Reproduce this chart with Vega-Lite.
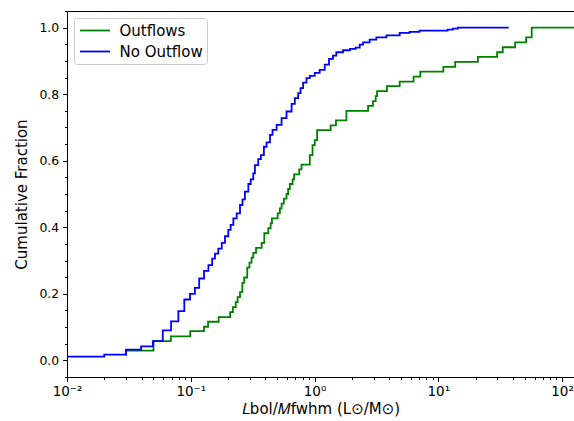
{
  "$schema": "https://vega.github.io/schema/vega-lite/v6.json",
  "width": 507,
  "height": 366,
  "autosize": {"type": "none"},
  "padding": {"left": 67, "top": 11, "right": 0, "bottom": 44},
  "background": "white",
  "config": {
    "font": "DejaVu Sans",
    "view": {"stroke": "#000000", "strokeWidth": 1},
    "axis": {
      "domainColor": "#000000",
      "domainWidth": 1,
      "tickColor": "#000000",
      "tickWidth": 1,
      "labelColor": "#000000",
      "labelFont": "DejaVu Sans",
      "labelFontSize": 12.4,
      "titleFont": "DejaVu Sans",
      "titleFontSize": 15,
      "titleFontWeight": "normal",
      "titleColor": "#000000",
      "grid": false
    }
  },
  "data": {
    "values": [
      {"s": "Outflows", "i": 0, "x": 0.03, "y": 0.0145},
      {"s": "Outflows", "i": 1, "x": 0.03, "y": 0.029},
      {"s": "Outflows", "i": 2, "x": 0.05, "y": 0.058},
      {"s": "Outflows", "i": 3, "x": 0.069, "y": 0.072},
      {"s": "Outflows", "i": 4, "x": 0.099, "y": 0.088},
      {"s": "Outflows", "i": 5, "x": 0.128, "y": 0.101},
      {"s": "Outflows", "i": 6, "x": 0.138, "y": 0.116},
      {"s": "Outflows", "i": 7, "x": 0.168, "y": 0.130},
      {"s": "Outflows", "i": 8, "x": 0.208, "y": 0.145},
      {"s": "Outflows", "i": 9, "x": 0.219, "y": 0.160},
      {"s": "Outflows", "i": 10, "x": 0.231, "y": 0.175},
      {"s": "Outflows", "i": 11, "x": 0.239, "y": 0.190},
      {"s": "Outflows", "i": 12, "x": 0.250, "y": 0.205},
      {"s": "Outflows", "i": 13, "x": 0.261, "y": 0.233},
      {"s": "Outflows", "i": 14, "x": 0.270, "y": 0.249},
      {"s": "Outflows", "i": 15, "x": 0.286, "y": 0.279},
      {"s": "Outflows", "i": 16, "x": 0.298, "y": 0.294},
      {"s": "Outflows", "i": 17, "x": 0.310, "y": 0.309},
      {"s": "Outflows", "i": 18, "x": 0.320, "y": 0.323},
      {"s": "Outflows", "i": 19, "x": 0.337, "y": 0.338},
      {"s": "Outflows", "i": 20, "x": 0.374, "y": 0.353},
      {"s": "Outflows", "i": 21, "x": 0.393, "y": 0.382},
      {"s": "Outflows", "i": 22, "x": 0.423, "y": 0.397},
      {"s": "Outflows", "i": 23, "x": 0.442, "y": 0.412},
      {"s": "Outflows", "i": 24, "x": 0.453, "y": 0.427},
      {"s": "Outflows", "i": 25, "x": 0.504, "y": 0.442},
      {"s": "Outflows", "i": 26, "x": 0.525, "y": 0.457},
      {"s": "Outflows", "i": 27, "x": 0.542, "y": 0.471},
      {"s": "Outflows", "i": 28, "x": 0.565, "y": 0.486},
      {"s": "Outflows", "i": 29, "x": 0.594, "y": 0.500},
      {"s": "Outflows", "i": 30, "x": 0.612, "y": 0.515},
      {"s": "Outflows", "i": 31, "x": 0.632, "y": 0.530},
      {"s": "Outflows", "i": 32, "x": 0.665, "y": 0.544},
      {"s": "Outflows", "i": 33, "x": 0.684, "y": 0.559},
      {"s": "Outflows", "i": 34, "x": 0.753, "y": 0.574},
      {"s": "Outflows", "i": 35, "x": 0.785, "y": 0.588},
      {"s": "Outflows", "i": 36, "x": 0.916, "y": 0.617},
      {"s": "Outflows", "i": 37, "x": 0.964, "y": 0.647},
      {"s": "Outflows", "i": 38, "x": 1.005, "y": 0.662},
      {"s": "Outflows", "i": 39, "x": 1.05, "y": 0.692},
      {"s": "Outflows", "i": 40, "x": 1.35, "y": 0.706},
      {"s": "Outflows", "i": 41, "x": 1.49, "y": 0.721},
      {"s": "Outflows", "i": 42, "x": 1.81, "y": 0.750},
      {"s": "Outflows", "i": 43, "x": 2.71, "y": 0.765},
      {"s": "Outflows", "i": 44, "x": 2.97, "y": 0.779},
      {"s": "Outflows", "i": 45, "x": 3.12, "y": 0.794},
      {"s": "Outflows", "i": 46, "x": 3.20, "y": 0.809},
      {"s": "Outflows", "i": 47, "x": 3.85, "y": 0.824},
      {"s": "Outflows", "i": 48, "x": 4.88, "y": 0.838},
      {"s": "Outflows", "i": 49, "x": 6.32, "y": 0.853},
      {"s": "Outflows", "i": 50, "x": 7.16, "y": 0.868},
      {"s": "Outflows", "i": 51, "x": 11.0, "y": 0.882},
      {"s": "Outflows", "i": 52, "x": 13.7, "y": 0.897},
      {"s": "Outflows", "i": 53, "x": 20.9, "y": 0.912},
      {"s": "Outflows", "i": 54, "x": 29.9, "y": 0.926},
      {"s": "Outflows", "i": 55, "x": 33.2, "y": 0.941},
      {"s": "Outflows", "i": 56, "x": 41.8, "y": 0.956},
      {"s": "Outflows", "i": 57, "x": 51.3, "y": 0.971},
      {"s": "Outflows", "i": 58, "x": 56.9, "y": 1.0},
      {"s": "Outflows", "i": 59, "x": 125, "y": 1.0},
      {"s": "No Outflow", "i": 0, "x": 0.008, "y": 0.0115},
      {"s": "No Outflow", "i": 1, "x": 0.020, "y": 0.017},
      {"s": "No Outflow", "i": 2, "x": 0.030, "y": 0.032},
      {"s": "No Outflow", "i": 3, "x": 0.0397, "y": 0.042},
      {"s": "No Outflow", "i": 4, "x": 0.0494, "y": 0.058},
      {"s": "No Outflow", "i": 5, "x": 0.0594, "y": 0.090},
      {"s": "No Outflow", "i": 6, "x": 0.0693, "y": 0.117},
      {"s": "No Outflow", "i": 7, "x": 0.0794, "y": 0.148},
      {"s": "No Outflow", "i": 8, "x": 0.0887, "y": 0.183},
      {"s": "No Outflow", "i": 9, "x": 0.0986, "y": 0.200},
      {"s": "No Outflow", "i": 10, "x": 0.108, "y": 0.218},
      {"s": "No Outflow", "i": 11, "x": 0.117, "y": 0.246},
      {"s": "No Outflow", "i": 12, "x": 0.128, "y": 0.269},
      {"s": "No Outflow", "i": 13, "x": 0.139, "y": 0.286},
      {"s": "No Outflow", "i": 14, "x": 0.149, "y": 0.306},
      {"s": "No Outflow", "i": 15, "x": 0.157, "y": 0.321},
      {"s": "No Outflow", "i": 16, "x": 0.167, "y": 0.336},
      {"s": "No Outflow", "i": 17, "x": 0.178, "y": 0.353},
      {"s": "No Outflow", "i": 18, "x": 0.189, "y": 0.373},
      {"s": "No Outflow", "i": 19, "x": 0.201, "y": 0.392},
      {"s": "No Outflow", "i": 20, "x": 0.210, "y": 0.407},
      {"s": "No Outflow", "i": 21, "x": 0.221, "y": 0.427},
      {"s": "No Outflow", "i": 22, "x": 0.235, "y": 0.442},
      {"s": "No Outflow", "i": 23, "x": 0.250, "y": 0.467},
      {"s": "No Outflow", "i": 24, "x": 0.262, "y": 0.484},
      {"s": "No Outflow", "i": 25, "x": 0.274, "y": 0.507},
      {"s": "No Outflow", "i": 26, "x": 0.292, "y": 0.530},
      {"s": "No Outflow", "i": 27, "x": 0.305, "y": 0.544},
      {"s": "No Outflow", "i": 28, "x": 0.320, "y": 0.562},
      {"s": "No Outflow", "i": 29, "x": 0.330, "y": 0.587},
      {"s": "No Outflow", "i": 30, "x": 0.351, "y": 0.605},
      {"s": "No Outflow", "i": 31, "x": 0.369, "y": 0.617},
      {"s": "No Outflow", "i": 32, "x": 0.390, "y": 0.642},
      {"s": "No Outflow", "i": 33, "x": 0.410, "y": 0.655},
      {"s": "No Outflow", "i": 34, "x": 0.437, "y": 0.678},
      {"s": "No Outflow", "i": 35, "x": 0.458, "y": 0.693},
      {"s": "No Outflow", "i": 36, "x": 0.494, "y": 0.708},
      {"s": "No Outflow", "i": 37, "x": 0.542, "y": 0.728},
      {"s": "No Outflow", "i": 38, "x": 0.594, "y": 0.748},
      {"s": "No Outflow", "i": 39, "x": 0.653, "y": 0.771},
      {"s": "No Outflow", "i": 40, "x": 0.693, "y": 0.788},
      {"s": "No Outflow", "i": 41, "x": 0.738, "y": 0.803},
      {"s": "No Outflow", "i": 42, "x": 0.771, "y": 0.818},
      {"s": "No Outflow", "i": 43, "x": 0.809, "y": 0.835},
      {"s": "No Outflow", "i": 44, "x": 0.861, "y": 0.848},
      {"s": "No Outflow", "i": 45, "x": 0.916, "y": 0.855},
      {"s": "No Outflow", "i": 46, "x": 1.005, "y": 0.864},
      {"s": "No Outflow", "i": 47, "x": 1.10, "y": 0.873},
      {"s": "No Outflow", "i": 48, "x": 1.21, "y": 0.889},
      {"s": "No Outflow", "i": 49, "x": 1.31, "y": 0.906},
      {"s": "No Outflow", "i": 50, "x": 1.41, "y": 0.916},
      {"s": "No Outflow", "i": 51, "x": 1.50, "y": 0.926},
      {"s": "No Outflow", "i": 52, "x": 1.70, "y": 0.932},
      {"s": "No Outflow", "i": 53, "x": 1.93, "y": 0.936},
      {"s": "No Outflow", "i": 54, "x": 2.15, "y": 0.940},
      {"s": "No Outflow", "i": 55, "x": 2.32, "y": 0.949},
      {"s": "No Outflow", "i": 56, "x": 2.47, "y": 0.956},
      {"s": "No Outflow", "i": 57, "x": 2.79, "y": 0.964},
      {"s": "No Outflow", "i": 58, "x": 3.16, "y": 0.971},
      {"s": "No Outflow", "i": 59, "x": 3.81, "y": 0.977},
      {"s": "No Outflow", "i": 60, "x": 4.88, "y": 0.984},
      {"s": "No Outflow", "i": 61, "x": 5.87, "y": 0.987},
      {"s": "No Outflow", "i": 62, "x": 7.06, "y": 0.991},
      {"s": "No Outflow", "i": 63, "x": 11.9, "y": 0.994},
      {"s": "No Outflow", "i": 64, "x": 13.1, "y": 0.997},
      {"s": "No Outflow", "i": 65, "x": 14.4, "y": 1.0},
      {"s": "No Outflow", "i": 66, "x": 37.1, "y": 1.0}
    ]
  },
  "mark": {"type": "line", "interpolate": "step-after", "strokeWidth": 1.8, "clip": true},
  "encoding": {
    "x": {
      "field": "x",
      "type": "quantitative",
      "scale": {"type": "log", "domain": [0.01, 125], "nice": false},
      "axis": {
        "title": "𝐿bol/𝑀fwhm (L⊙/M⊙)",
        "values": [0.01, 0.02, 0.03, 0.04, 0.05, 0.06, 0.07, 0.08, 0.09, 0.1, 0.2, 0.3, 0.4, 0.5, 0.6, 0.7, 0.8, 0.9, 1, 2, 3, 4, 5, 6, 7, 8, 9, 10, 20, 30, 40, 50, 60, 70, 80, 90, 100],
        "labelExpr": "datum.value == 0.01 ? '10⁻²' : datum.value == 0.1 ? '10⁻¹' : datum.value == 1 ? '10⁰' : datum.value == 10 ? '10¹' : datum.value == 100 ? '10²' : ''",
        "tickSize": {"condition": {"test": "indexof([0.01, 0.1, 1, 10, 100], datum.value) >= 0", "value": 4.4}, "value": 2.5},
        "labelFontSize": 13.5,
        "labelPadding": 3,
        "labelFlush": false,
        "labelOverlap": false,
        "titlePadding": 4
      }
    },
    "y": {
      "field": "y",
      "type": "quantitative",
      "scale": {"domain": [-0.05, 1.05], "nice": false, "zero": false},
      "axis": {
        "title": "Cumulative Fraction",
        "values": [-0.05, 0, 0.05, 0.1, 0.15, 0.2, 0.25, 0.3, 0.35, 0.4, 0.45, 0.5, 0.55, 0.6, 0.65, 0.7, 0.75, 0.8, 0.85, 0.9, 0.95, 1.0, 1.05],
        "labelExpr": "abs(datum.value * 5 - round(datum.value * 5)) < 0.000001 ? format(datum.value, '.1f') : ''",
        "tickSize": {"condition": {"test": "abs(datum.value * 5 - round(datum.value * 5)) < 0.000001", "value": 4.4}, "value": 2.5},
        "labelPadding": 4,
        "labelFlush": false,
        "labelOverlap": false,
        "titlePadding": 9
      }
    },
    "color": {
      "field": "s",
      "type": "nominal",
      "scale": {"domain": ["Outflows", "No Outflow"], "range": ["#008000", "#0000ff"]},
      "legend": {
        "title": null,
        "orient": "top-left",
        "offset": 7,
        "padding": 4,
        "rowPadding": 4,
        "fillColor": "rgba(255,255,255,0.8)",
        "strokeColor": "#cccccc",
        "cornerRadius": 3,
        "symbolType": "M-2,0H2",
        "symbolSize": 225,
        "symbolStrokeWidth": 1.8,
        "symbolOffset": 8.5,
        "labelOffset": 16,
        "labelFont": "DejaVu Sans",
        "labelFontSize": 15,
        "labelColor": "#000000"
      }
    },
    "order": {"field": "i", "type": "quantitative"}
  }
}
